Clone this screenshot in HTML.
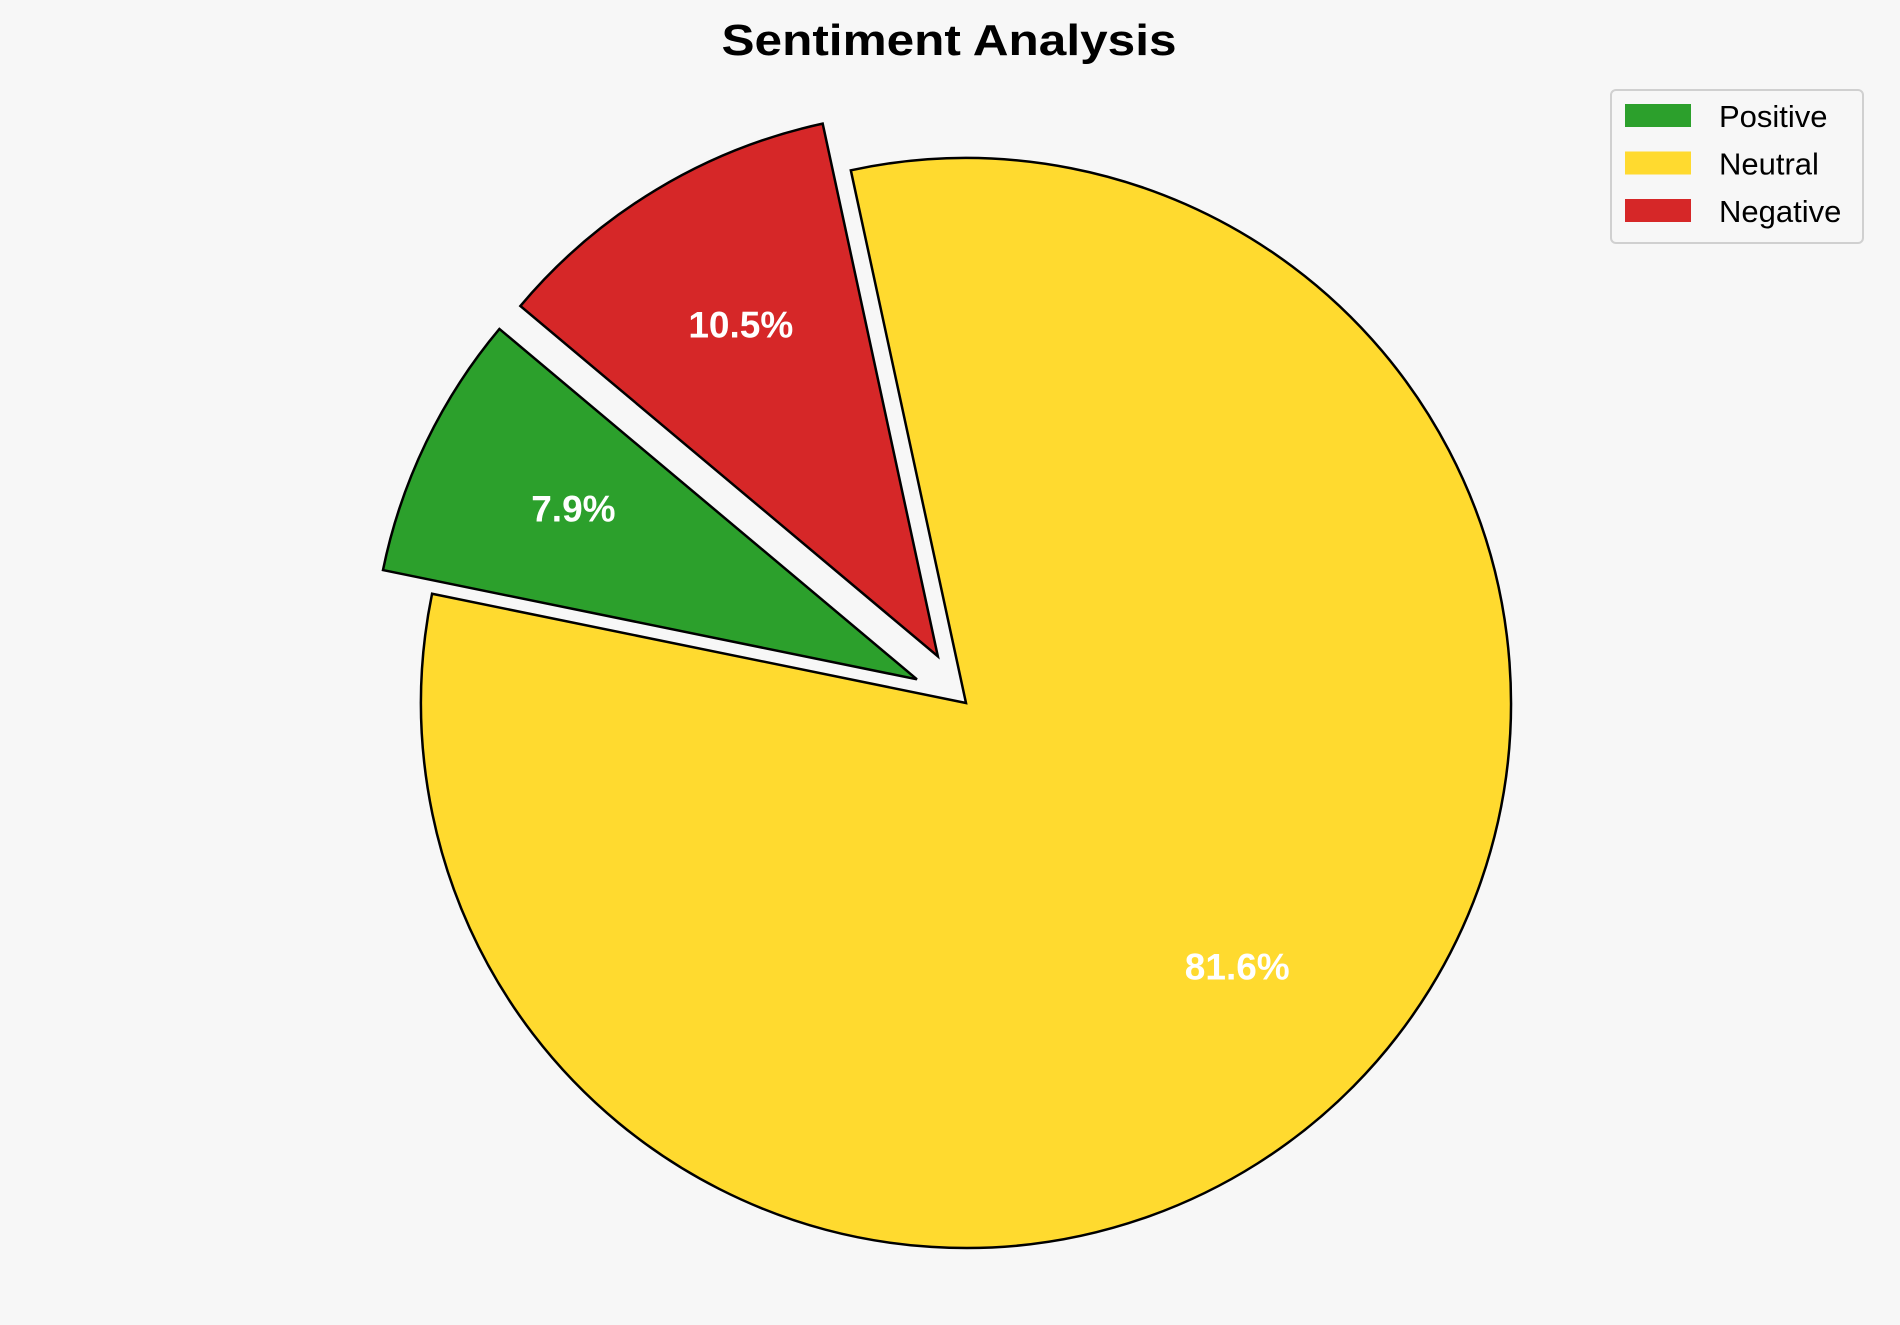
<!DOCTYPE html>
<html><head><meta charset="utf-8"><style>
html,body{margin:0;padding:0;background:#f7f7f7;}
svg{display:block;font-family:"Liberation Sans",Arial,sans-serif;}
</style></head><body>
<svg id="chart" width="1900" height="1325" viewBox="0 0 1900 1325">
<rect width="1900" height="1325" fill="#f7f7f7"/>
<text x="949" y="55" text-anchor="middle" font-size="44" font-weight="bold" textLength="455" lengthAdjust="spacingAndGlyphs">Sentiment Analysis</text>
<g id="pie"></g>
<g>
<rect x="1611" y="90" width="252" height="153" rx="5" fill="#f7f7f7" stroke="#d0d0d0" stroke-width="2"/>
<g id="legend-items"></g>
</g>
</svg>
<script>
const categories = ["Positive", "Neutral", "Negative"];
const values = [7.9, 81.6, 10.5];
const colors = ["#2ca02c", "#ffda2f", "#d62728"];
const explode = [0.1, 0, 0.1];
const startAngle = 140;
const cx = 966, cy = 703, R = 545;
const NS = "http://www.w3.org/2000/svg";
const pie = document.getElementById("pie");
const total = values.reduce((a,b)=>a+b,0);
let a0 = startAngle;
const labels = [];
values.forEach((v,i)=>{
  const span = v/total*360;
  const a1 = a0 + span;
  const mid = (a0+a1)/2*Math.PI/180;
  const ox = cx + explode[i]*R*Math.cos(mid), oy = cy - explode[i]*R*Math.sin(mid);
  const r0 = a0*Math.PI/180, r1 = a1*Math.PI/180;
  const x0 = ox + R*Math.cos(r0), y0 = oy - R*Math.sin(r0);
  const x1 = ox + R*Math.cos(r1), y1 = oy - R*Math.sin(r1);
  const large = span > 180 ? 1 : 0;
  const p = document.createElementNS(NS,"path");
  p.setAttribute("d",`M${ox},${oy} L${x0},${y0} A${R},${R} 0 ${large} 0 ${x1},${y1} Z`);
  p.setAttribute("fill",colors[i]);
  p.setAttribute("stroke","#000");
  p.setAttribute("stroke-width","2.5");
  p.setAttribute("stroke-linejoin","miter");
  
  
  pie.appendChild(p);
  const t = document.createElementNS(NS,"text");
  t.setAttribute("x", ox + 0.7*R*Math.cos(mid));
  t.setAttribute("y", oy - 0.7*R*Math.sin(mid) + 8);
  t.setAttribute("text-anchor","middle");
  t.setAttribute("font-size","37");
  t.setAttribute("font-weight","bold");
  t.setAttribute("fill","#fff");
  t.textContent = (v/total*100).toFixed(1) + "%";
  
  
  labels.push(t);
  a0 = a1;
});
labels.forEach(t=>pie.appendChild(t));
const leg = document.getElementById("legend-items");
categories.forEach((c,i)=>{
  const y = 104 + i*47.5;
  const r = document.createElementNS(NS,"rect");
  r.setAttribute("x",1625); r.setAttribute("y",y);
  r.setAttribute("width",66); r.setAttribute("height",23);
  r.setAttribute("fill",colors[i]);
  
  
  leg.appendChild(r);
  const t = document.createElementNS(NS,"text");
  t.setAttribute("x",1719); t.setAttribute("y",y+23);
  t.setAttribute("font-size","31");
  t.textContent = c;
  
  
  leg.appendChild(t);
});
</script>
</body></html>
